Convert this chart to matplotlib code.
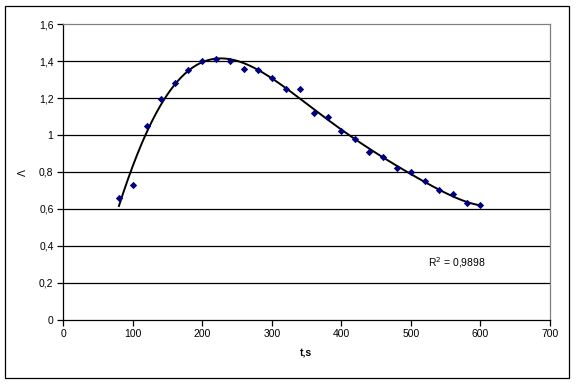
import numpy as np
import matplotlib
matplotlib.use("Agg")
import matplotlib.pyplot as plt
from matplotlib.patches import Rectangle

plt.rcParams['font.family'] = ['Liberation Sans', 'DejaVu Sans']

t_values = [80, 100, 120, 140, 160, 180, 200, 220, 240, 260, 280, 300, 320, 340,
            360, 380, 400, 420, 440, 460, 480, 500, 520, 540, 560, 580, 600]
lam_values = [0.66, 0.73, 1.05, 1.195, 1.28, 1.35, 1.40, 1.41, 1.40, 1.36, 1.35, 1.31, 1.25, 1.25,
              1.12, 1.10, 1.02, 0.98, 0.91, 0.88, 0.82, 0.80, 0.75, 0.70, 0.68, 0.63, 0.62]
x_ticks = [0, 100, 200, 300, 400, 500, 600, 700]
y_ticks = [0, 0.2, 0.4, 0.6, 0.8, 1.0, 1.2, 1.4, 1.6]
y_tick_labels = ["0", "0,2", "0,4", "0,6", "0,8", "1", "1,2", "1,4", "1,6"]
r2_label = "R$^2$ = 0,9898"

t = np.array(t_values, dtype=float)
lam = np.array(lam_values)

fig = plt.figure(figsize=(5.76, 3.85), dpi=100)
ax = fig.add_axes([63.3/576, 1 - 319.7/385, (550 - 63.3)/576, (319.7 - 24.3)/385])

# outer border
fig.patches.append(Rectangle((5/576, 1 - 378/385), (569 - 5)/576, (378 - 6)/385,
                             transform=fig.transFigure, fill=False, edgecolor='black',
                             linewidth=0.9))

# horizontal grid
for yv in y_ticks[1:-1]:
    ax.axhline(yv, color='black', linewidth=0.9, zorder=1)

# polynomial trendline (6th order)
ts = (t - 340) / 260
coef = np.polyfit(ts, lam, 6)
tt = np.linspace(t.min(), t.max(), 400)
ax.plot(tt, np.polyval(coef, (tt - 340) / 260), color='black', linewidth=1.4, zorder=2)

ax.scatter(t, lam, marker='D', s=14, color='#000080', zorder=3, linewidths=0)

ax.set_xlim(0, 700)
ax.set_ylim(0, 1.6)
ax.set_xticks(x_ticks)
ax.set_xticklabels([str(v) for v in x_ticks])
ax.set_yticks(y_ticks)
ax.set_yticklabels(y_tick_labels)
ax.tick_params(axis='both', direction='out', length=4, width=0.9, labelsize=7.5, pad=3,
               colors='black')

for s in ['top', 'right']:
    ax.spines[s].set_color('#808080')
    ax.spines[s].set_linewidth(0.9)
for s in ['left', 'bottom']:
    ax.spines[s].set_color('black')
    ax.spines[s].set_linewidth(0.9)

ax.text(525, 0.307, r2_label, fontsize=7.5, va='center', ha='left')

fig.text(306/576, 1 - 354/385, "t,s", fontsize=7.5, fontweight='bold', ha='center', va='center')
fig.text(23/576, 1 - 173/385, "Λ", fontsize=7.5, rotation=90, ha='center', va='center')

fig.savefig("out.png", dpi=100)
